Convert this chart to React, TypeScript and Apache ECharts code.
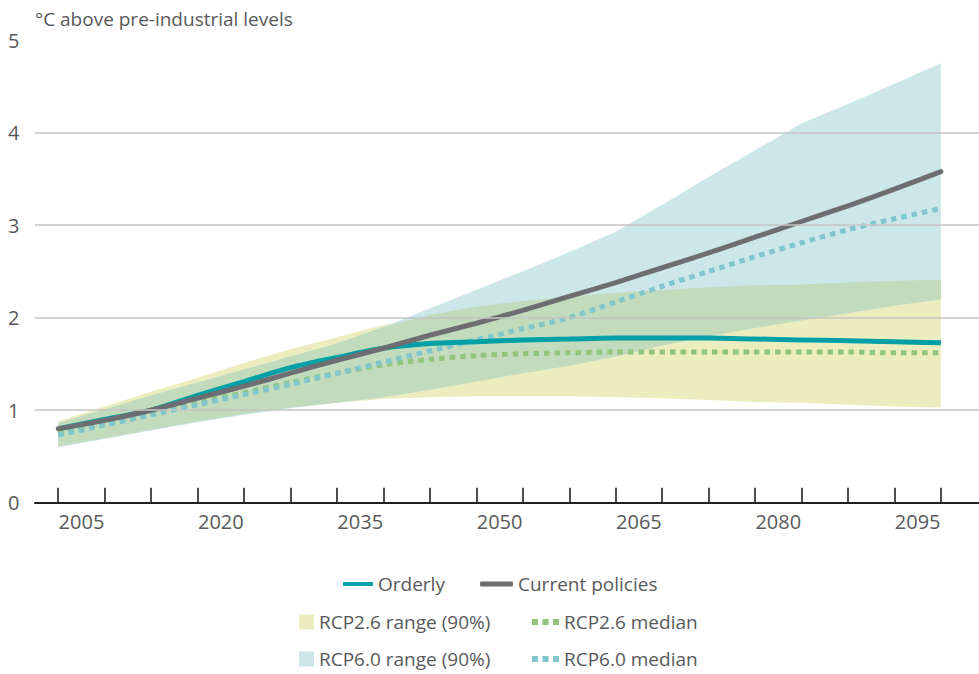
import React, { useEffect, useRef } from "react";
import * as echarts from "echarts";

const years = [2002.5, 2007.5, 2012.5, 2017.5, 2022.5, 2027.5, 2032.5, 2037.5, 2042.5, 2047.5, 2052.5, 2057.5, 2062.5, 2067.5, 2072.5, 2077.5, 2082.5, 2087.5, 2092.5, 2097.5];

const orderly = [0.8, 0.9, 1.0, 1.16, 1.31, 1.46, 1.57, 1.67, 1.72, 1.74, 1.76, 1.77, 1.78, 1.78, 1.78, 1.77, 1.76, 1.75, 1.74, 1.73];
const currentPolicies = [0.8, 0.89, 1.0, 1.13, 1.26, 1.4, 1.54, 1.67, 1.81, 1.94, 2.08, 2.23, 2.38, 2.54, 2.7, 2.87, 3.04, 3.21, 3.39, 3.58];
const rcp26Median = [0.75, 0.86, 0.97, 1.08, 1.19, 1.3, 1.4, 1.49, 1.55, 1.59, 1.61, 1.62, 1.63, 1.63, 1.63, 1.63, 1.63, 1.63, 1.62, 1.62];
const rcp60Median = [0.73, 0.84, 0.95, 1.06, 1.17, 1.28, 1.4, 1.52, 1.64, 1.76, 1.88, 2.0, 2.17, 2.34, 2.5, 2.66, 2.81, 2.95, 3.07, 3.18];
const rcp26Low = [0.61, 0.7, 0.79, 0.88, 0.96, 1.03, 1.08, 1.12, 1.14, 1.15, 1.15, 1.15, 1.14, 1.13, 1.11, 1.09, 1.08, 1.06, 1.04, 1.03];
const rcp26High = [0.88, 1.04, 1.2, 1.35, 1.51, 1.66, 1.79, 1.92, 2.03, 2.12, 2.18, 2.23, 2.27, 2.3, 2.33, 2.35, 2.36, 2.38, 2.4, 2.41];
const rcp60Low = [0.6, 0.69, 0.78, 0.87, 0.95, 1.02, 1.08, 1.14, 1.22, 1.31, 1.4, 1.48, 1.58, 1.7, 1.8, 1.89, 1.97, 2.05, 2.13, 2.2];
const rcp60High = [0.86, 1.01, 1.16, 1.3, 1.44, 1.58, 1.72, 1.9, 2.1, 2.3, 2.5, 2.71, 2.93, 3.22, 3.52, 3.81, 4.1, 4.31, 4.53, 4.75];

const tickYears = years;
const labelYears = [2005, 2020, 2035, 2050, 2065, 2080, 2095];
const yLabels = [0, 1, 2, 3, 4, 5];
const gridValues = [1, 2, 3, 4];

const FONT = "'Open Sans', 'Noto Sans', sans-serif";
const TEXT = "#58595b";
const C_TEAL = "#00a0a6";
const C_GRAY = "#6d6e71";
const C_GREEN = "#93c47d";
const C_BLUE = "#7fc6cd";
const C_YELLOW = "#ecedbf";
const C_LBLUE = "#cde6ea";
const C_OVER = "#c2dbbc";

const pts = (vals: number[]) => years.map((y, i) => [y, vals[i]]);

const overLow = rcp26Low.map((v, i) => Math.max(v, rcp60Low[i]));
const overHigh = rcp26High.map((v, i) => Math.min(v, rcp60High[i]));

function band(name: string, lo: number[], hi: number[], color: string) {
  return {
    type: "custom",
    name,
    data: years.map((y, i) => [y, lo[i], hi[i]]),
    encode: { x: 0, y: [1, 2] },
    color,
    itemStyle: { color },
    z: 1,
    silent: true,
    clip: true,
    renderItem: (params: any, api: any) => {
      if (params.dataIndex !== 0) return null;
      const top = years.map((y, i) => api.coord([y, hi[i]]));
      const bottom = years.map((y, i) => api.coord([y, lo[i]])).reverse();
      return {
        type: "polygon",
        shape: { points: top.concat(bottom) },
        style: { fill: color, stroke: null },
      };
    },
  };
}

const dotsIcon = "path://M0,0h6v6h-6z M10.5,0h6v6h-6z M21,0h6v6h-6z";

function legendItem(left: number, top: number, data: any, w: number, h: number) {
  return {
    left,
    top,
    padding: 0,
    itemGap: 0,
    itemWidth: w,
    itemHeight: h,
    selectedMode: false,
    textStyle: { color: TEXT, fontSize: 19, fontFamily: FONT, lineHeight: 22 },
    data: [data],
  };
}

export default function App() {
  const ref = useRef<HTMLDivElement>(null);
  useEffect(() => {
    document.body.style.margin = "0";
    const chart = echarts.init(ref.current!, null, { renderer: "svg" });
    const option: any = {
      animation: false,
      backgroundColor: "#ffffff",
      title: {
        text: "°C above pre-industrial levels",
        left: 35,
        top: 8,
        padding: 0,
        textStyle: { color: TEXT, fontSize: 19, fontWeight: "normal", fontFamily: FONT, lineHeight: 22 },
      },
      grid: { left: 35, right: 0, top: 40.2, bottom: 171.3, containLabel: false },
      xAxis: {
        type: "value",
        min: 2000,
        max: 2101.6,
        axisLine: { show: true, onZero: false, lineStyle: { color: "#231f20", width: 2 } },
        axisTick: { show: true, inside: true, length: 15, customValues: tickYears, lineStyle: { color: "#231f20", width: 1.6 } },
        axisLabel: {
          show: true,
          customValues: labelYears,
          formatter: (v: number) => String(v),
          color: TEXT,
          fontSize: 20,
          fontFamily: FONT,
          margin: 9,
        },
        splitLine: { show: false },
      },
      yAxis: {
        type: "value",
        min: 0,
        max: 5,
        interval: 1,
        axisLine: { show: false },
        axisTick: { show: false },
        splitLine: { show: false },
        axisLabel: {
          customValues: yLabels,
          formatter: (v: number) => String(v),
          color: TEXT,
          fontSize: 20,
          fontFamily: FONT,
          align: "left",
          margin: 27,
        },
      },
      legend: [
        legendItem(343, 573, { name: "Orderly", icon: "rect", itemStyle: { color: C_TEAL } }, 30, 4),
        legendItem(480, 573, { name: "Current policies", icon: "roundRect", itemStyle: { color: C_GRAY } }, 33, 5),
        legendItem(299, 611, { name: "RCP2.6 range (90%)", icon: "rect", itemStyle: { color: C_YELLOW } }, 15, 15),
        legendItem(532, 611, { name: "RCP2.6 median", icon: dotsIcon, itemStyle: { color: C_GREEN } }, 27, 6),
        legendItem(299, 648, { name: "RCP6.0 range (90%)", icon: "rect", itemStyle: { color: C_LBLUE } }, 15, 15),
        legendItem(532, 648, { name: "RCP6.0 median", icon: dotsIcon, itemStyle: { color: C_BLUE } }, 27, 6),
      ],
      series: [
        band("RCP2.6 range (90%)", rcp26Low, rcp26High, C_YELLOW),
        band("RCP6.0 range (90%)", rcp60Low, rcp60High, C_LBLUE),
        band("overlap", overLow, overHigh, C_OVER),
        {
          type: "line",
          name: "RCP2.6 median",
          data: pts(rcp26Median),
          symbol: "none",
          smooth: 0.3,
          color: C_GREEN,
          itemStyle: { color: C_GREEN },
          lineStyle: { color: C_GREEN, width: 5, type: [5.5, 5], cap: "butt" },
          z: 2,
          markLine: {
            silent: true,
            symbol: "none",
            label: { show: false },
            animation: false,
            lineStyle: { color: "#c4c4c4", width: 1.6, type: "solid" },
            data: gridValues.map((v) => ({ yAxis: v })),
          },
        },
        {
          type: "line",
          name: "RCP6.0 median",
          data: pts(rcp60Median),
          symbol: "none",
          smooth: 0.3,
          color: C_BLUE,
          itemStyle: { color: C_BLUE },
          lineStyle: { color: C_BLUE, width: 5, type: [5.5, 5], cap: "butt" },
          z: 2,
        },
        {
          type: "line",
          name: "Orderly",
          data: pts(orderly),
          symbol: "none",
          smooth: 0.3,
          color: C_TEAL,
          itemStyle: { color: C_TEAL },
          lineStyle: { color: C_TEAL, width: 5 },
          z: 3,
        },
        {
          type: "line",
          name: "Current policies",
          data: pts(currentPolicies),
          symbol: "none",
          smooth: 0.3,
          color: C_GRAY,
          itemStyle: { color: C_GRAY },
          lineStyle: { color: C_GRAY, width: 5, cap: "round" },
          z: 3,
        },
      ],
    };
    chart.setOption(option);
    return () => chart.dispose();
  }, []);
  return <div ref={ref} style={{ width: 979, height: 674 }} />;
}
